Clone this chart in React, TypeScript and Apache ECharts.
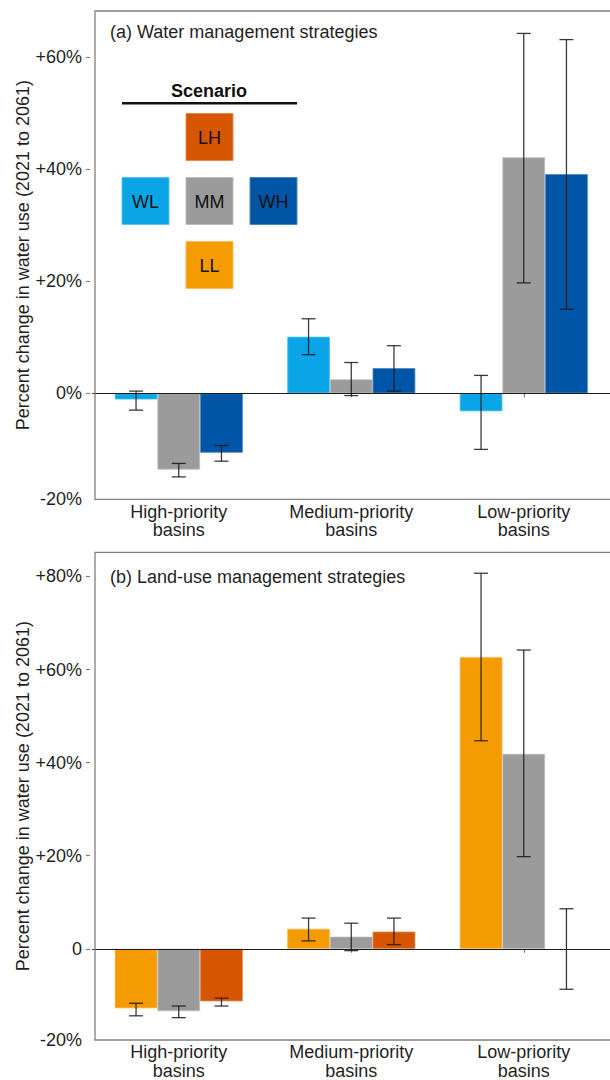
import React, { useEffect, useRef } from "react";
import * as echarts from "echarts";

// ---------- data ----------
const categories = ["High-priority\nbasins", "Medium-priority\nbasins", "Low-priority\nbasins"];

// Panel (a): water management strategies
const scenariosA = ["WL", "MM", "WH"];
const valuesA_WL = [-1.1, 10.1, -3.2];
const valuesA_MM = [-13.6, 2.5, 42.1];
const valuesA_WH = [-10.6, 4.5, 39.1];
const errorsA_WL = [[-3.0, 0.4], [6.9, 13.3], [-10.0, 3.2]];
const errorsA_MM = [[-14.9, -12.5], [-0.4, 5.5], [19.7, 64.2]];
const errorsA_WH = [[-12.1, -9.3], [0.4, 8.5], [15.0, 63.1]];

// Panel (b): land-use management strategies
const scenariosB = ["LL", "MM", "LH"];
const valuesB_LL = [-12.8, 4.3, 62.7];
const valuesB_MM = [-13.4, 2.6, 41.9];
const valuesB_LH = [-11.3, 3.7, null];
const errorsB_LL = [[-14.4, -11.7], [1.7, 6.6], [44.7, 80.7]];
const errorsB_MM = [[-14.8, -12.3], [-0.4, 5.5], [19.8, 64.2]];
const errorsB_LH = [[-12.3, -10.6], [0.9, 6.6], [-8.7, 8.6]];

// y-axis ranges and tick labels
const yMinA = -18.9;
const yMaxA = 68.2;
const tickValuesA = [yMinA, 0, 20, 40, 60];
const tickLabelsA = ["-20%", "0%", "+20%", "+40%", "+60%"];
const yMinB = -19.6;
const yMaxB = 85.2;
const tickValuesB = [yMinB, 0, 20, 40, 60, 80];
const tickLabelsB = ["-20%", "0", "+20%", "+40%", "+60%", "+80%"];

const colors: Record<string, string> = {
  WL: "#09A5E7",
  MM: "#9B9B9B",
  WH: "#0155A6",
  LH: "#D55500",
  LL: "#F39B00",
};
const borderColors: Record<string, string> = {
  WL: "#5CC4F0",
  MM: "#BDBDBD",
  WH: "#4C86C2",
  LH: "#E68A50",
  LL: "#F8BE5A",
};

const FONT = "'Liberation Sans', Arial, sans-serif";
const BAR_W = 42.7;
const TEXT_COLOR = "#1f1f1f";
const FRAME_COLOR = "#7f7f7f";

function barSeries(grid: number, name: string, values: (number | null)[], withZero: boolean) {
  const s: any = {
    type: "bar",
    name,
    xAxisIndex: grid,
    yAxisIndex: grid,
    data: values,
    barWidth: BAR_W,
    barGap: "0%",
    itemStyle: { color: colors[name], borderColor: borderColors[name], borderWidth: 0.8 },
    silent: true,
    z: 2,
  };
  if (withZero) {
    s.markLine = {
      silent: true,
      symbol: "none",
      label: { show: false },
      lineStyle: { color: "#1a1a1a", width: 1.2, type: "solid" },
      data: [{ yAxis: 0 }],
      z: 3,
    };
  }
  return s;
}

function errorSeries(grid: number, slot: number, errs: number[][]) {
  return {
    type: "custom",
    xAxisIndex: grid,
    yAxisIndex: grid,
    data: errs.map((e, i) => [i, e[0], e[1]]),
    encode: { x: 0, y: [1, 2] },
    silent: true,
    z: 6,
    renderItem: (params: any, api: any) => {
      const ci = api.value(0);
      const lo = api.coord([ci, api.value(1)]);
      const hi = api.coord([ci, api.value(2)]);
      const x = lo[0] + (slot - 1) * BAR_W;
      const cap = 7;
      const style = { stroke: "rgba(25,25,25,0.85)", lineWidth: 1.3 };
      return {
        type: "group",
        children: [
          { type: "line", shape: { x1: x, y1: hi[1], x2: x, y2: lo[1] }, style },
          { type: "line", shape: { x1: x - cap, y1: hi[1], x2: x + cap, y2: hi[1] }, style },
          { type: "line", shape: { x1: x - cap, y1: lo[1], x2: x + cap, y2: lo[1] }, style },
        ],
      };
    },
  };
}

function yAxis(grid: number, min: number, max: number, values: number[], labels: string[]) {
  return {
    type: "value",
    gridIndex: grid,
    min,
    max,
    offset: 2.5,
    name: "Percent change in water use (2021 to 2061)",
    nameLocation: "middle",
    nameGap: 58,
    nameMoveOverlap: false,
    nameTextStyle: { fontFamily: FONT, fontSize: 18, color: TEXT_COLOR },
    axisLine: { show: false },
    splitLine: { show: false },
    axisTick: {
      show: true,
      length: 4,
      customValues: values.slice(1),
      lineStyle: { color: FRAME_COLOR, width: 1.2 },
    },
    axisLabel: {
      customValues: values,
      margin: 8,
      fontFamily: FONT,
      fontSize: 18,
      color: TEXT_COLOR,
      formatter: (v: number) => {
        const idx = values.findIndex((t) => Math.abs(t - v) < 1e-6);
        return idx >= 0 ? labels[idx] : "";
      },
    },
  };
}

function xAxis(grid: number) {
  return {
    type: "category",
    gridIndex: grid,
    data: categories,
    axisLine: { show: false },
    axisTick: { show: true, alignWithLabel: true, length: 4, lineStyle: { color: FRAME_COLOR, width: 1.2 } },
    axisLabel: {
      margin: 3,
      interval: 0,
      fontFamily: FONT,
      fontSize: 18,
      lineHeight: 18.5,
      color: TEXT_COLOR,
    },
  };
}

function legendGraphic() {
  const box = 47;
  const items = [
    { key: "LH", x: 186, y: 113.5 },
    { key: "WL", x: 122, y: 177.5 },
    { key: "MM", x: 186, y: 177.5 },
    { key: "WH", x: 250, y: 177.5 },
    { key: "LL", x: 186, y: 241.5 },
  ];
  const children: any[] = [
    {
      type: "text",
      x: 209,
      y: 91,
      style: { text: "Scenario", font: `bold 18px ${FONT}`, fill: "#111", align: "center", verticalAlign: "middle" },
    },
    {
      type: "line",
      shape: { x1: 122, y1: 103.3, x2: 297, y2: 103.3 },
      style: { stroke: "#111", lineWidth: 2.6 },
    },
  ];
  items.forEach((it) => {
    children.push({
      type: "rect",
      shape: { x: it.x, y: it.y, width: box, height: box },
      style: { fill: colors[it.key], stroke: borderColors[it.key], lineWidth: 1 },
    });
    children.push({
      type: "text",
      x: it.x + box / 2,
      y: it.y + box / 2 + 1,
      style: { text: it.key, font: `18px ${FONT}`, fill: "#111", align: "center", verticalAlign: "middle" },
    });
  });
  return { type: "group", children };
}

export default function App() {
  const ref = useRef<HTMLDivElement>(null);
  useEffect(() => {
    document.body.style.margin = "0";
    if (!ref.current) return;
    const chart = echarts.init(ref.current, null, { renderer: "svg" });
    const option: any = {
      animation: false,
      backgroundColor: "#ffffff",
      textStyle: { fontFamily: FONT },
      grid: [
        { left: 92.5, right: -7.5, top: 11, height: 488.3 },
        { left: 92.5, right: -7.5, top: 552.3, height: 487.7 },
      ],
      xAxis: [xAxis(0), xAxis(1)],
      yAxis: [
        yAxis(0, yMinA, yMaxA, tickValuesA, tickLabelsA),
        yAxis(1, yMinB, yMaxB, tickValuesB, tickLabelsB),
      ],
      series: [
        barSeries(0, scenariosA[0], valuesA_WL, true),
        barSeries(0, scenariosA[1], valuesA_MM, false),
        barSeries(0, scenariosA[2], valuesA_WH, false),
        errorSeries(0, 0, errorsA_WL),
        errorSeries(0, 1, errorsA_MM),
        errorSeries(0, 2, errorsA_WH),
        barSeries(1, scenariosB[0], valuesB_LL, true),
        barSeries(1, scenariosB[1], valuesB_MM, false),
        barSeries(1, scenariosB[2], valuesB_LH, false),
        errorSeries(1, 0, errorsB_LL),
        errorSeries(1, 1, errorsB_MM),
        errorSeries(1, 2, errorsB_LH),
      ],
      graphic: [
        {
          type: "rect",
          shape: { x: 95, y: 11, width: 530, height: 488.3 },
          style: { fill: "none", stroke: FRAME_COLOR, lineWidth: 1.3 },
          silent: true,
          z: 10,
        },
        {
          type: "rect",
          shape: { x: 95, y: 552.3, width: 530, height: 487.7 },
          style: { fill: "none", stroke: FRAME_COLOR, lineWidth: 1.3 },
          silent: true,
          z: 10,
        },
        {
          type: "text",
          x: 110,
          y: 31.5,
          style: { text: "(a) Water management strategies", font: `18px ${FONT}`, fill: TEXT_COLOR, verticalAlign: "middle" },
        },
        {
          type: "text",
          x: 110,
          y: 576.7,
          style: { text: "(b) Land-use management strategies", font: `18px ${FONT}`, fill: TEXT_COLOR, verticalAlign: "middle" },
        },
        legendGraphic(),
      ],
    };
    chart.setOption(option);
    return () => chart.dispose();
  }, []);
  return <div ref={ref} style={{ width: 610, height: 1080 }} />;
}
